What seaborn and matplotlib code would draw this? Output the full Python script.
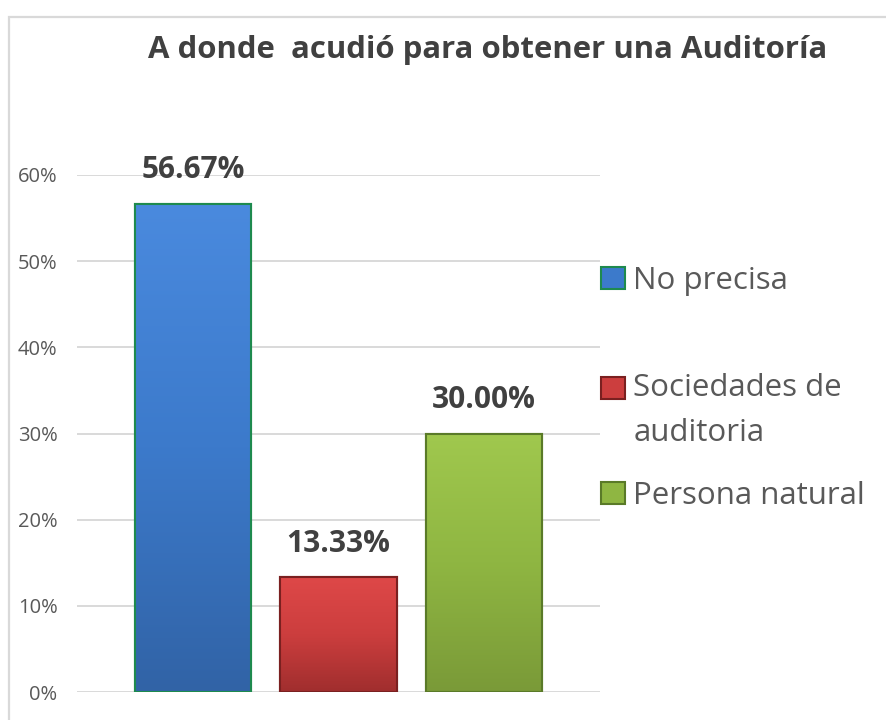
import numpy as np
import pandas as pd
import matplotlib
matplotlib.use("Agg")
import matplotlib.pyplot as plt
import seaborn as sns
from matplotlib.patches import Rectangle, Patch
from matplotlib.colors import LinearSegmentedColormap
from matplotlib.legend_handler import HandlerPatch

categories = ["No precisa", "Sociedades de auditoria", "Persona natural"]
values = [0.5667, 0.1333, 0.30]
value_labels = ["56.67%", "13.33%", "30.00%"]
legend_labels = ["No precisa", "Sociedades de\nauditoria", "Persona natural"]
yticks = [0, 0.1, 0.2, 0.3, 0.4, 0.5, 0.6]
ytick_labels = ["0%", "10%", "20%", "30%", "40%", "50%", "60%"]
title = "A donde  acudió para obtener una Auditoría"

face_colors = ["#3c7acb", "#cc3e3e", "#8fb642"]
light_colors = ["#4a8ade", "#de4848", "#a0c84e"]
dark_colors = ["#3163a6", "#a02e2e", "#7a9a38"]
edge_colors = ["#1e8a4e", "#7a2020", "#5a7a28"]

sns.set_theme(style="white")
plt.rcParams['font.family'] = ['Open Sans', 'DejaVu Sans']

df = pd.DataFrame({"cat": categories, "val": values})

fig = plt.figure(figsize=(8.87, 7.2), dpi=100)
ax = fig.add_axes([77/887, 28/720, 523/887, 517/720])

sns.barplot(data=df, x="cat", y="val", hue="cat", palette=face_colors,
            dodge=False, width=0.8, legend=False, ax=ax, saturation=1)

ax.set_xlim(-0.8, 2.8)
ax.set_ylim(0, 0.6)
ax.set_yticks(yticks)
ax.set_yticklabels(ytick_labels, fontsize=14.5, color="#595959")
ax.set_xticks([])
ax.set_xlabel("")
ax.set_ylabel("")
ax.tick_params(axis="y", length=0, pad=14)
for s in ax.spines.values():
    s.set_visible(False)
ax.grid(axis="y", color="#d9d9d9", linewidth=1.4)
ax.set_axisbelow(True)

for i, p in enumerate(ax.patches):
    p.set_edgecolor(edge_colors[i])
    p.set_linewidth(1.5)
    x0, y0 = p.get_x(), p.get_y()
    w, h = p.get_width(), p.get_height()
    cmap = LinearSegmentedColormap.from_list("g", [dark_colors[i], face_colors[i], light_colors[i]])
    grad = np.linspace(0, 1, 256).reshape(-1, 1)
    im = ax.imshow(grad, extent=[x0, x0 + w, y0, y0 + h], origin="lower",
                   aspect="auto", cmap=cmap, zorder=p.get_zorder() + 0.1)
    im.set_clip_path(p)
    ax.add_patch(Rectangle((x0, y0), w, h, fill=False, edgecolor=edge_colors[i],
                           linewidth=1.5, zorder=p.get_zorder() + 0.2))
    ax.annotate(value_labels[i], (x0 + w / 2, values[i]), xytext=(0, 24),
                textcoords="offset points", ha="center", va="center",
                fontsize=21.5, fontweight="bold", color="#404040", annotation_clip=False)

ax.set_xlim(-0.8, 2.8)
ax.set_ylim(0, 0.6)


class ShiftedPatchHandler(HandlerPatch):
    def __init__(self, shift=0.0, **kw):
        super().__init__(**kw)
        self.shift = shift

    def create_artists(self, legend, orig_handle, xdescent, ydescent, width,
                       height, fontsize, trans):
        r = Rectangle((-xdescent, -ydescent + self.shift), width, height)
        self.update_prop(r, orig_handle, legend)
        r.set_transform(trans)
        return [r]


handles = [Patch(facecolor=face_colors[i], edgecolor=edge_colors[i], linewidth=1.5)
           for i in range(3)]
legend_y = [281, 410.5, 496]
shifts = [0.0, 16.5, 0.0]
for i in range(3):
    leg = fig.legend([handles[i]], [legend_labels[i]], loc="center left",
                     bbox_to_anchor=(601/887, 1 - legend_y[i]/720), frameon=False,
                     fontsize=22.5, labelcolor="#595959", handlelength=0.77,
                     handleheight=0.7, handletextpad=0.26, borderpad=0,
                     borderaxespad=0,
                     handler_map={Patch: ShiftedPatchHandler(shift=shifts[i])})
    for t in leg.get_texts():
        t.set_linespacing(1.62)

fig.text(488/887, 1 - 50/720, title, ha="center", va="center",
         fontsize=22.4, fontweight="bold", color="#404040")

fig.patches.append(Rectangle((9/887, -0.05), 1.2, 1 - 17/720 + 0.05,
                             transform=fig.transFigure, fill=False,
                             edgecolor="#d9d9d9", linewidth=1.6))

fig.savefig("out.png", dpi=100)
